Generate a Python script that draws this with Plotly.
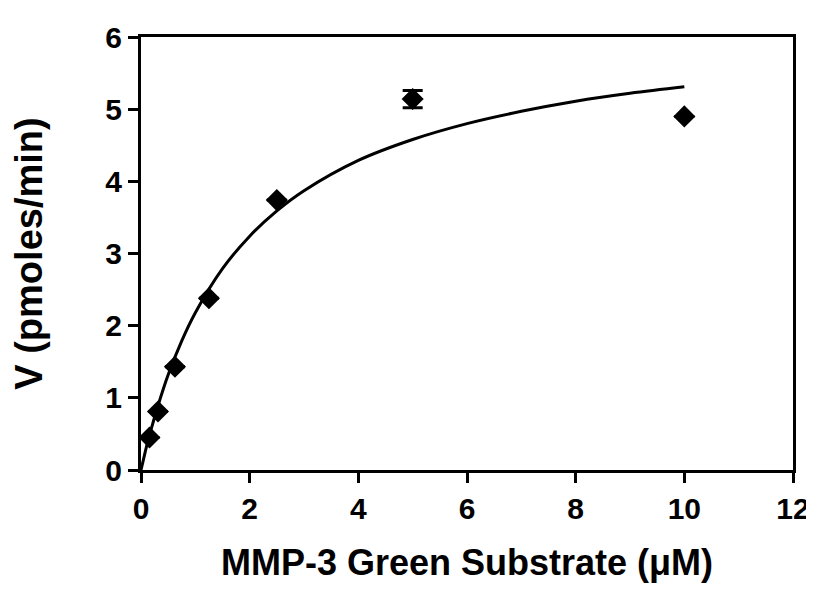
import plotly.graph_objects as go

# measured points (substrate uM, rate pmoles/min)
conc = [0.156, 0.3125, 0.625, 1.25, 2.5, 5, 10]
rate = [0.45, 0.81, 1.43, 2.38, 3.74, 5.14, 4.90]
rate_err = [0, 0, 0, 0, 0, 0.12, 0]

# fitted curve
fit_x = [0, 0.05, 0.1, 0.2, 0.3, 0.5, 0.75, 1, 1.5, 2, 2.5, 3, 4, 5, 6, 7, 8, 9, 10]
fit_y = [0, 0.16, 0.32, 0.60, 0.86, 1.32, 1.79, 2.18, 2.79, 3.24, 3.59, 3.87,
         4.29, 4.58, 4.80, 4.97, 5.11, 5.22, 5.31]

xticks = [0, 2, 4, 6, 8, 10, 12]
yticks = [0, 1, 2, 3, 4, 5, 6]

fig = go.Figure()
fig.add_trace(go.Scatter(
    x=fit_x, y=fit_y, mode="lines", line=dict(color="black", width=3, shape="spline"),
    showlegend=False, hoverinfo="skip"))
fig.add_trace(go.Scatter(
    x=conc, y=rate, mode="markers",
    marker=dict(symbol="diamond", size=17, color="black"),
    error_y=dict(type="data", array=rate_err, color="black", thickness=3, width=10),
    showlegend=False))

font = "Liberation Sans, Arial, sans-serif"
fig.update_layout(
    width=814, height=592,
    margin=dict(l=133, r=23, t=23, b=130),
    paper_bgcolor="white", plot_bgcolor="white",
    font=dict(family=font, color="black", size=22),
)
fig.update_xaxes(
    range=[0, 12], tickvals=xticks, ticktext=[f"<b>{v}</b>" for v in xticks],
    showline=True, linecolor="black", linewidth=3, mirror=True,
    ticks="outside", ticklen=10, tickwidth=3, tickcolor="black",
    showgrid=False, zeroline=False, tickfont=dict(size=30),
    title=dict(text="<b>MMP-3 Green Substrate (μM)</b>", font=dict(size=36), standoff=26),
)
fig.update_yaxes(
    range=[0, 6], tickvals=yticks, ticktext=[f"<b>{v}</b>" for v in yticks],
    showline=True, linecolor="black", linewidth=3, mirror=True,
    ticks="outside", ticklen=10, tickwidth=3, tickcolor="black",
    showgrid=False, zeroline=False, tickfont=dict(size=30),
    title=dict(text="<b>V (pmoles/min)</b>", font=dict(size=38), standoff=56),
)

fig.write_html("out.html")
